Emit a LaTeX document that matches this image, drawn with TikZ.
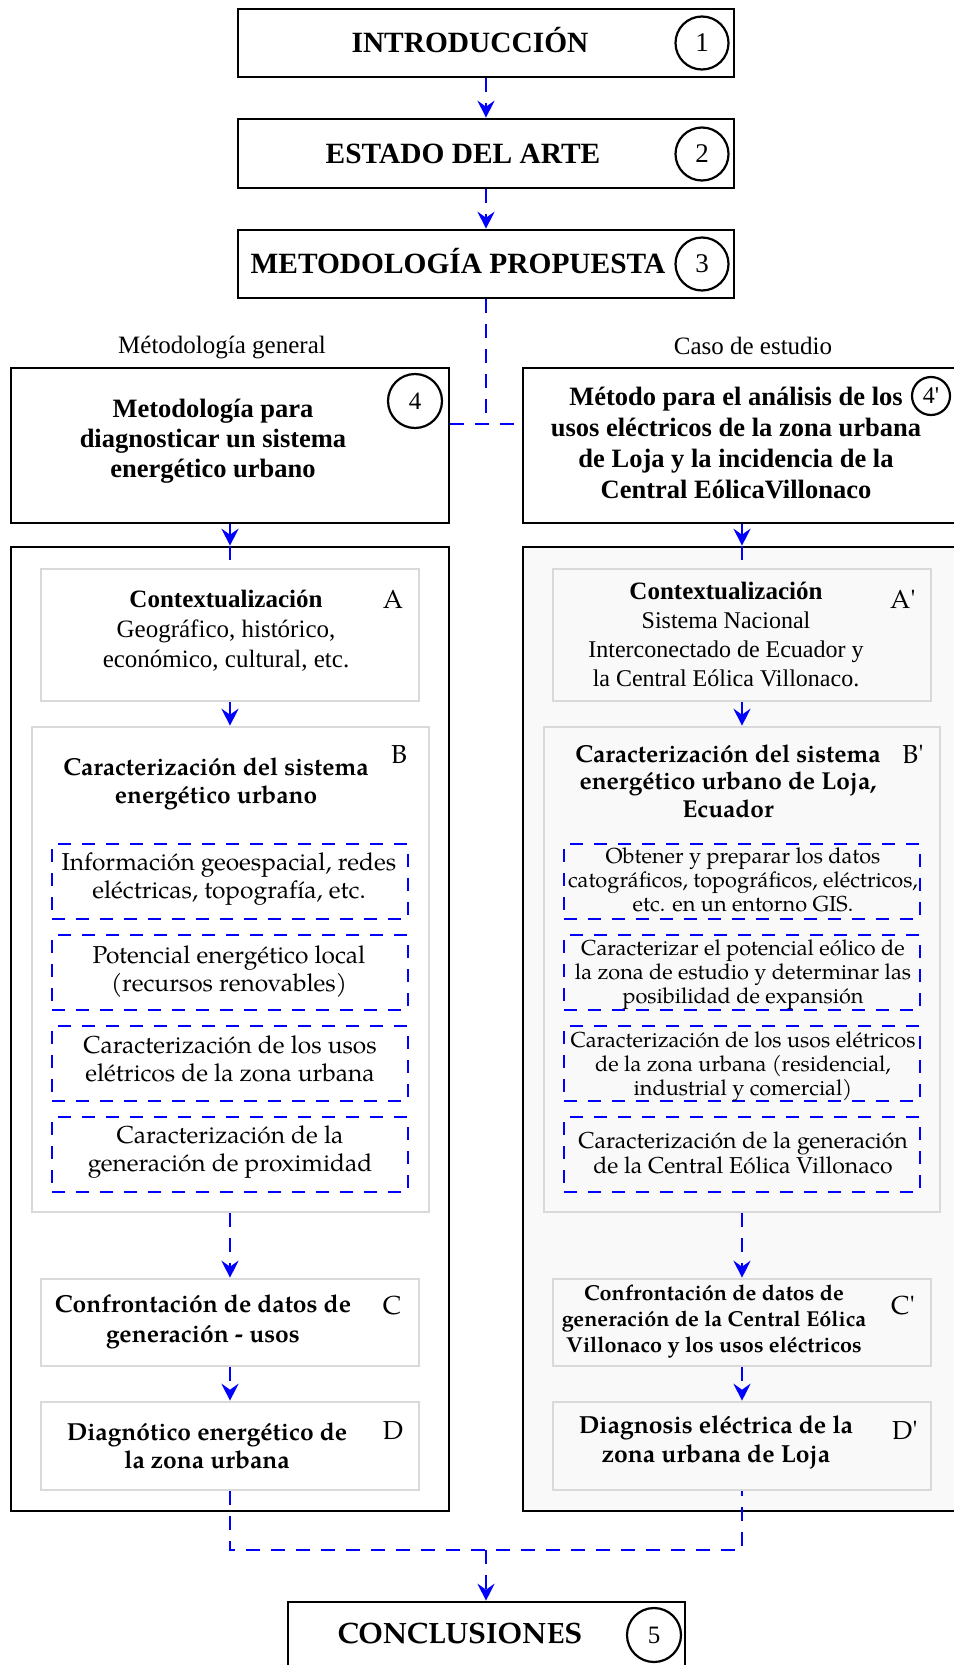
\documentclass[tikz,border=0pt]{standalone}
\usepackage{fontspec}
\newfontfamily\tnr{Liberation Serif}
\newfontfamily\pal{TeX Gyre Pagella}
\usetikzlibrary{arrows.meta}
\definecolor{lgray}{HTML}{D9D9D9}
\definecolor{paper}{HTML}{F9F9F9}
\newcommand\fsz[2]{\fontsize{#1pt}{#2pt}\selectfont}
\begin{document}
% multi-line text nodes are placed by the baseline of their last line
\begin{tikzpicture}[x=1pt,y=-1pt,
  blk/.style={draw=black, line width=2.6pt, fill=white, inner sep=0pt},
  gry/.style={draw=lgray, line width=2.6pt, fill=white, inner sep=0pt},
  dbox/.style={draw=blue, line width=2.4pt, dash pattern=on 13pt off 11pt, inner sep=0pt},
  conn/.style={blue, line width=2.4pt, dash pattern=on 14pt off 11pt},
  arr/.style={conn, -{Stealth[length=17pt,width=17pt,inset=6pt]}},
  num/.style={draw, circle, line width=2.2pt, fill=white, inner sep=0pt},
  txt/.style={inner sep=0pt, align=center, anchor=base},
  head/.style={txt, font=\tnr\bfseries\fsz{29.4}{32}},
  letter/.style={txt, font=\pal\fsz{26}{28}},
]
\useasboundingbox (0,0) rectangle (953,1665);
\fill[white] (0,0) rectangle (953,1665);

% main sequence
\node[blk, minimum width=496pt, minimum height=68pt] (b1) at (486,43) {};
\node[head] (t1) at (470,52) {INTRODUCCIÓN};
\node[num, minimum size=53pt, font=\tnr\fsz{27}{30}] (n1) at (702,43) {1};

\node[blk, minimum width=496pt, minimum height=69pt] (b2) at (486,153.5) {};
\node[head] (t2) at (463,163) {ESTADO DEL ARTE};
\node[num, minimum size=53pt, font=\tnr\fsz{27}{30}] (n2) at (702,154) {2};

\node[blk, minimum width=496pt, minimum height=68pt] (b3) at (486,264) {};
\node[head] (t3) at (458,273) {METODOLOGÍA PROPUESTA};
\node[num, minimum size=53pt, font=\tnr\fsz{27}{30}] (n3) at (702,264) {3};

% column captions
\node[txt, font=\tnr\fsz{25}{28}] (capL) at (222,353) {Métodología general};
\node[txt, font=\tnr\fsz{25}{28}] (capR) at (753,354) {Caso de estudio};

% method headers
\node[blk, minimum width=438pt, minimum height=155pt] (b4) at (230,445.5) {};
\node[txt, font=\tnr\bfseries\fsz{26.5}{30}] (t4) at (213,477)
  {Metodología para\\diagnosticar un sistema\\energético urbano};
\node[num, minimum size=54pt, font=\tnr\fsz{25}{28}] (n4) at (415,401) {4};

\node[blk, minimum width=437pt, minimum height=155pt] (b4p) at (741.5,445.5) {};
\node[txt, font=\tnr\bfseries\fsz{26.5}{31}] (t4p) at (736,498)
  {Método para el análisis de los\\usos eléctricos de la zona urbana\\de Loja y la incidencia de la\\Central EólicaVillonaco};
\node[num, minimum size=38pt, font=\tnr\fsz{24}{26}] (n4p) at (931,396) {4'};

% column frames
\node[blk, minimum width=438pt, minimum height=964pt] (colL) at (230,1029) {};
\node[blk, fill=paper, minimum width=437pt, minimum height=964pt] (colR) at (741.5,1029) {};

% left column
\node[gry, minimum width=378pt, minimum height=132pt] (A) at (230,635) {};
\node[txt, font=\tnr\fsz{25}{30}] (tA) at (226,667)
  {{\bfseries Contextualización}\\Geográfico, histórico,\\económico, cultural, etc.};
\node[letter] (lA) at (393,608) {A};

\node[gry, minimum width=397pt, minimum height=485pt] (B) at (230.5,969.5) {};
\node[txt, font=\pal\bfseries\fsz{24.5}{28}] (tB) at (216,803)
  {Caracterización del sistema\\energético urbano};
\node[letter] (lB) at (399,763) {B};

\node[dbox, minimum width=356pt, minimum height=75pt] (B1) at (230,881.5) {};
\node[dbox, minimum width=356pt, minimum height=75pt] (B2) at (230,972.5) {};
\node[dbox, minimum width=356pt, minimum height=75pt] (B3) at (230,1063.5) {};
\node[dbox, minimum width=356pt, minimum height=75pt] (B4) at (230,1154.5) {};
\node[txt, font=\pal\fsz{24.5}{28.5}] (tB1) at (229,898.5)
  {Información geoespacial, redes\\eléctricas, topografía, etc.};
\node[txt, font=\pal\fsz{24.5}{28.5}] (tB2) at (229,991.5)
  {Potencial energético local\\(recursos renovables)};
\node[txt, font=\pal\fsz{24.5}{28.5}] (tB3) at (230,1081.5)
  {Caracterización de los usos\\elétricos de la zona urbana};
\node[txt, font=\pal\fsz{24.5}{28.5}] (tB4) at (230,1171.5)
  {Caracterización de la\\generación de proximidad};

\node[gry, minimum width=378pt, minimum height=87pt] (C) at (230,1322.5) {};
\node[txt, font=\pal\bfseries\fsz{24.6}{30}] (tC) at (203,1342)
  {Confrontación de datos de\\generación - usos};
\node[letter] (lC) at (392,1314) {C};

\node[gry, minimum width=378pt, minimum height=88pt] (D) at (230,1446) {};
\node[txt, font=\pal\bfseries\fsz{24.6}{28}] (tD) at (207,1468)
  {Diagnótico energético de\\la zona urbana};
\node[letter] (lD) at (393,1439) {D};

% right column
\node[gry, fill=paper, minimum width=378pt, minimum height=132pt] (Ap) at (742,635) {};
\node[txt, font=\tnr\fsz{24}{29}] (tAp) at (726,686)
  {{\bfseries\fsz{25}{29}Contextualización}\\Sistema Nacional\\Interconectado de Ecuador y\\la Central Eólica Villonaco.};
\node[letter] (lAp) at (903,608) {A'};

\node[gry, fill=paper, minimum width=396pt, minimum height=485pt] (Bp) at (742,969.5) {};
\node[txt, font=\pal\bfseries\fsz{24.5}{27.5}] (tBp) at (728,817)
  {Caracterización del sistema\\energético urbano de Loja,\\Ecuador};
\node[letter] (lBp) at (913,763) {B'};

\node[dbox, minimum width=356pt, minimum height=75pt] (Bp1) at (742,881.5) {};
\node[dbox, minimum width=356pt, minimum height=75pt] (Bp2) at (742,972.5) {};
\node[dbox, minimum width=356pt, minimum height=75pt] (Bp3) at (742,1063.5) {};
\node[dbox, minimum width=356pt, minimum height=75pt] (Bp4) at (742,1154.5) {};
\node[txt, font=\pal\fsz{21.7}{24.3}] (tBp1) at (743,911.6)
  {Obtener y preparar los datos\\catográficos, topográficos, eléctricos,\\etc. en un entorno GIS.};
\node[txt, font=\pal\fsz{21.7}{24.3}] (tBp2) at (743,1003.6)
  {Caracterizar el potencial eólico de\\la zona de estudio y determinar las\\posibilidad de expansión};
\node[txt, font=\pal\fsz{21.7}{24.3}] (tBp3) at (743,1095.6)
  {Caracterización de los usos elétricos\\de la zona urbana (residencial,\\industrial y comercial)};
\node[txt, font=\pal\fsz{23}{25}] (tBp4) at (743,1173)
  {Caracterización de la generación\\de la Central Eólica Villonaco};

\node[gry, fill=paper, minimum width=378pt, minimum height=87pt] (Cp) at (742,1322.5) {};
\node[txt, font=\pal\bfseries\fsz{21.6}{26}] (tCp) at (714,1352)
  {Confrontación de datos de\\generación de la Central Eólica\\Villonaco y los usos eléctricos};
\node[letter] (lCp) at (903,1314) {C'};

\node[gry, fill=paper, minimum width=378pt, minimum height=88pt] (Dp) at (742,1446) {};
\node[txt, font=\pal\bfseries\fsz{24.7}{29.5}] (tDp) at (716,1462.5)
  {Diagnosis eléctrica de la\\zona urbana de Loja};
\node[letter] (lDp) at (905,1439) {D'};

% conclusions
\node[blk, minimum width=397pt, minimum height=88pt] (b5) at (486.5,1646) {};
\node[txt, font=\pal\bfseries\fsz{29.4}{32}] (t5) at (460,1643) {CONCLUSIONES};
\node[num, minimum size=54pt, font=\tnr\fsz{25}{28}] (n5) at (654,1635) {5};

% junctions
\coordinate (jTop) at (486,424);
\coordinate (jBot) at (486,1550);

% connectors
\draw[arr] (b1) -- (b2);
\draw[arr] (b2) -- (b3);
\draw[conn] (b3.south) -- (jTop);
\draw[conn] (jTop -| b4.east) -- (jTop -| b4p.west);
\draw[arr] (b4.south) -- (colL.north);
\draw[arr] (b4p.south -| Ap.north) -- (colR.north -| Ap.north);
\draw[conn] (colL.north) -- (A.north);
\draw[conn] (colR.north -| Ap.north) -- (Ap.north);
\draw[arr] (A.south) -- (B.north -| A.south);
\draw[arr] (Ap.south) -- (Bp.north -| Ap.south);
\draw[arr] (B.south -| C.north) -- (C.north);
\draw[arr] (Bp.south -| Cp.north) -- (Cp.north);
\draw[arr] (C) -- (D);
\draw[arr] (Cp) -- (Dp);
\draw[conn] (D.south) -- (D.south |- jBot) -- (Dp.south |- jBot) -- (Dp.south);
\draw[arr] (jBot) -- (b5.north -| jBot);
\end{tikzpicture}
\end{document}
